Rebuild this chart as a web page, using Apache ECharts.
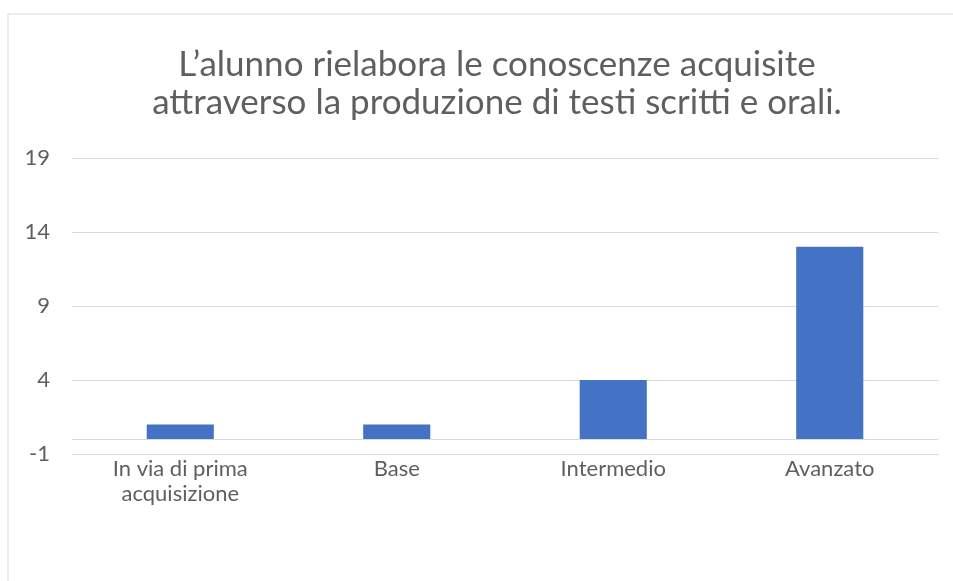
<!DOCTYPE html>
<html>
<head>
<meta charset="utf-8">
<script src="https://cdn.jsdelivr.net/npm/echarts@6/dist/echarts.min.js"></script>
<style>
  html, body { margin: 0; padding: 0; background: #fff; }
  #chart { width: 953px; height: 581px; }
</style>
</head>
<body>
<div id="chart"></div>
<script>
// Livelli di competenza e numero di alunni per livello
const categories = ['In via di prima\nacquisizione', 'Base', 'Intermedio', 'Avanzato'];
const values = [1, 1, 4, 13];
const axisMin = -1;
const axisMax = 19;
const axisStep = 5;
const titleText = 'L\u2019alunno rielabora le conoscenze acquisite\nattraverso la produzione di testi scritti e orali.';

const chart = echarts.init(document.getElementById('chart'));
chart.setOption({
  animation: false,
  backgroundColor: '#ffffff',
  textStyle: { fontFamily: 'Lato, "Open Sans", sans-serif' },
  graphic: [{
    type: 'rect',
    shape: { x: 8, y: 14, width: 980, height: 620 },
    style: { fill: 'none', stroke: '#d9d9d9', lineWidth: 1 },
    silent: true,
    z: -1
  }],
  title: {
    text: titleText,
    left: 492,
    textAlign: 'center',
    top: 41,
    textStyle: {
      fontFamily: 'Lato, sans-serif',
      fontSize: 35,
      fontWeight: 'normal',
      color: '#5f5f5f',
      lineHeight: 38
    }
  },
  grid: { left: 72, right: 15, top: 158, bottom: 127 },
  xAxis: {
    type: 'category',
    data: categories,
    axisLine: { onZero: false, lineStyle: { color: '#d9d9d9' } },
    axisTick: { show: false },
    axisLabel: {
      color: '#5f5f5f',
      fontSize: 22,
      lineHeight: 25,
      margin: 2,
      interval: 0
    }
  },
  yAxis: {
    type: 'value',
    min: axisMin,
    max: axisMax,
    interval: axisStep,
    axisLine: { show: false },
    axisTick: { show: false },
    axisLabel: { color: '#5f5f5f', fontSize: 22, margin: 22 },
    splitLine: { lineStyle: { color: '#d9d9d9', width: 1 } }
  },
  series: [{
    type: 'bar',
    data: values,
    barWidth: '31%',
    itemStyle: { color: '#4472C4' },
    markLine: {
      silent: true,
      symbol: 'none',
      label: { show: false },
      lineStyle: { color: '#d9d9d9', type: 'solid', width: 1 },
      data: [{ yAxis: 0 }]
    }
  }]
});
</script>
</body>
</html>
